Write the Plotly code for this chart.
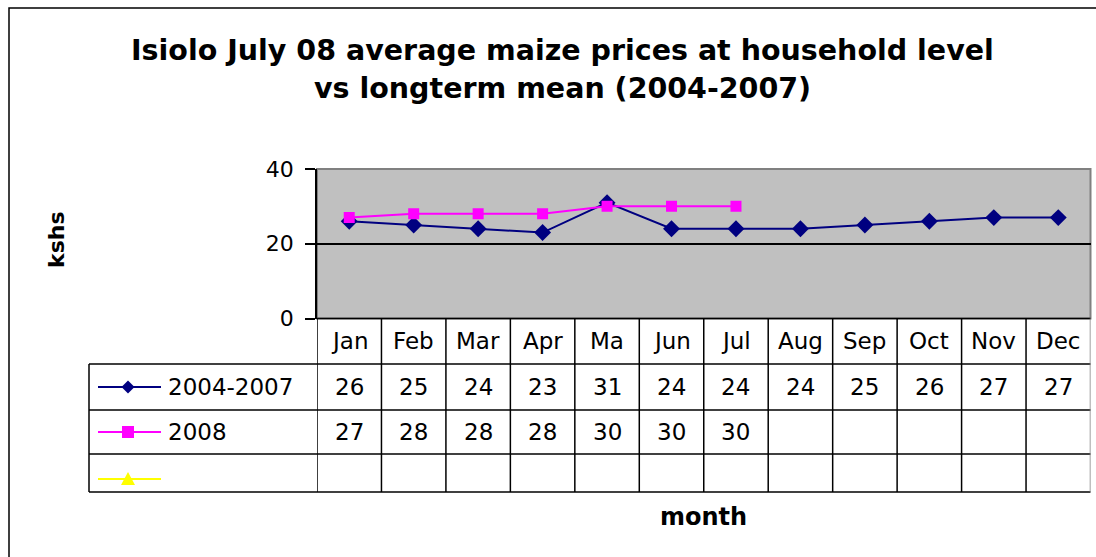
import plotly.graph_objects as go

months = ["Jan", "Feb", "Mar", "Apr", "Ma", "Jun", "Jul", "Aug", "Sep", "Oct", "Nov", "Dec"]
series_names = ["2004-2007", "2008", ""]
longterm = [26, 25, 24, 23, 31, 24, 24, 24, 25, 26, 27, 27]
y2008 = [27, 28, 28, 28, 30, 30, 30, None, None, None, None, None]
series3 = [None] * 12
y_ticks = [0, 20, 40]

title_l1 = "Isiolo July 08 average maize prices at household level"
title_l2 = "vs longterm mean (2004-2007)"

W, H = 1096, 557
OFF = 0
FONT = "DejaVu Sans, Liberation Sans, Arial, sans-serif"

def px(x):
    return (x - OFF) / W

def py(y):
    return (H - (y - OFF)) / H

PL, PR, PT, PB = 317, 1090.5, 169, 318.5
ROWS = [318.5, 364, 410, 454, 492]
TLEFT = 89

colors = ["#000080", "#FF00FF", "#FFFF00"]
symbols = ["diamond", "square", "triangle-up"]

fig = go.Figure()
fig.add_trace(go.Scatter(x=months, y=longterm, mode="lines+markers", name=series_names[0],
                         line=dict(color=colors[0], width=2),
                         marker=dict(symbol="diamond", size=13, color=colors[0])))
fig.add_trace(go.Scatter(x=months, y=y2008, mode="lines+markers", name=series_names[1],
                         line=dict(color=colors[1], width=2),
                         marker=dict(symbol="square", size=11, color=colors[1])))
fig.add_trace(go.Scatter(x=months, y=series3, mode="lines+markers", name="series3",
                         line=dict(color=colors[2], width=2),
                         marker=dict(symbol="triangle-up", size=11, color=colors[2])))

shapes = []
annotations = []

# outer chart border (top and left visible)
shapes.append(dict(type="rect", xref="paper", yref="paper", x0=px(9), x1=px(1120), y0=py(580), y1=py(8),
                   line=dict(color="#000000", width=1.5), layer="above"))
# plot area gray border
shapes.append(dict(type="rect", xref="paper", yref="paper", x0=px(PL), x1=px(PR), y0=py(PB), y1=py(PT),
                   line=dict(color="#808080", width=2), layer="below"))

# table horizontal lines
shapes.append(dict(type="line", xref="paper", yref="paper", x0=px(PL), x1=px(PR), y0=py(ROWS[0]), y1=py(ROWS[0]),
                   line=dict(color="#000000", width=1.5)))
for r in ROWS[1:]:
    shapes.append(dict(type="line", xref="paper", yref="paper", x0=px(TLEFT), x1=px(PR), y0=py(r), y1=py(r),
                       line=dict(color="#000000", width=1.5)))
# table vertical lines at category boundaries
for i in range(len(months) + 1):
    shapes.append(dict(type="line", xref="x", yref="paper", x0=i - 0.5, x1=i - 0.5,
                       y0=py(ROWS[-1]), y1=py(ROWS[0]),
                       line=dict(color="#808080" if i == len(months) else "#000000", width=1.5)))
shapes.append(dict(type="line", xref="paper", yref="paper", x0=px(TLEFT), x1=px(TLEFT),
                   y0=py(ROWS[-1]), y1=py(ROWS[1]), line=dict(color="#000000", width=1.5)))

tf = dict(family=FONT, size=23, color="#000000")

# header row month labels
for m in months:
    annotations.append(dict(x=m, y=py((ROWS[0] + ROWS[1]) / 2), xref="x", yref="paper", text=m,
                            showarrow=False, font=tf, xanchor="center", yanchor="middle"))

# data rows
rows_data = [longterm, y2008, series3]
for k, data in enumerate(rows_data):
    yc = py((ROWS[k + 1] + ROWS[k + 2]) / 2)
    for m, v in zip(months, data):
        if v is not None:
            annotations.append(dict(x=m, y=yc, xref="x", yref="paper", text=str(v),
                                    showarrow=False, font=tf, xanchor="center", yanchor="middle"))
    # legend key
    ycpx = (ROWS[k + 1] + ROWS[k + 2]) / 2 + (6 if k == 2 else 0)
    shapes.append(dict(type="line", xref="paper", yref="paper", x0=px(98), x1=px(161),
                       y0=py(ycpx), y1=py(ycpx), line=dict(color=colors[k], width=2)))
    cx, cy = 128, ycpx
    if symbols[k] == "diamond":
        s = 6.5
        path = f"M {px(cx - s)} {py(cy)} L {px(cx)} {py(cy - s)} L {px(cx + s)} {py(cy)} L {px(cx)} {py(cy + s)} Z"
    elif symbols[k] == "square":
        s = 6
        path = f"M {px(cx - s)} {py(cy - s)} L {px(cx + s)} {py(cy - s)} L {px(cx + s)} {py(cy + s)} L {px(cx - s)} {py(cy + s)} Z"
    else:
        s = 7
        path = f"M {px(cx - s)} {py(cy + 6)} L {px(cx + s)} {py(cy + 6)} L {px(cx)} {py(cy - 7)} Z"
    shapes.append(dict(type="path", xref="paper", yref="paper", path=path,
                       fillcolor=colors[k], line=dict(color=colors[k], width=0)))
    if series_names[k]:
        annotations.append(dict(x=px(166), y=yc, xref="paper", yref="paper", text=series_names[k],
                                showarrow=False, font=tf, xanchor="left", yanchor="middle"))

# title
tfont = dict(family=FONT, size=28.5, color="#000000")
annotations.append(dict(x=px(562), y=py(50), xref="paper", yref="paper", text="<b>" + title_l1 + "</b>",
                        showarrow=False, font=tfont, xanchor="center", yanchor="middle"))
annotations.append(dict(x=px(562), y=py(89), xref="paper", yref="paper", text="<b>" + title_l2 + "</b>",
                        showarrow=False, font=tfont, xanchor="center", yanchor="middle"))
# axis titles
annotations.append(dict(x=px(56), y=py(240), xref="paper", yref="paper", text="<b>kshs</b>",
                        showarrow=False, font=dict(family=FONT, size=22, color="#000000"),
                        textangle=-90, xanchor="center", yanchor="middle"))
annotations.append(dict(x=px(703), y=py(517), xref="paper", yref="paper", text="<b>month</b>",
                        showarrow=False, font=dict(family=FONT, size=24, color="#000000"),
                        xanchor="center", yanchor="middle"))

fig.update_layout(
    template="none",
    width=W, height=H,
    margin=dict(l=0, r=0, t=0, b=0, pad=0, autoexpand=False),
    paper_bgcolor="#FFFFFF",
    plot_bgcolor="#C0C0C0",
    showlegend=False,
    shapes=shapes,
    annotations=annotations,
    xaxis=dict(domain=[px(PL), px(PR)], type="category", range=[-0.5, 11.5], automargin=False,
               showticklabels=False, showgrid=False, zeroline=False, ticks="", showline=False),
    yaxis=dict(domain=[py(PB), py(PT)], range=[0, 40], tickvals=y_ticks, automargin=False,
               ticks="outside", ticklen=10, tickcolor="#000000", tickwidth=1.5,
               showline=True, linecolor="#000000", linewidth=1.5,
               showgrid=True, gridcolor="#000000", gridwidth=1.5, zeroline=False,
               tickfont=dict(family=FONT, size=22, color="#000000"), ticklabelstandoff=7),
)

fig.write_html("out.html", config={"displayModeBar": False},
               post_script="document.body.style.margin='0';document.body.style.overflow='hidden';")
